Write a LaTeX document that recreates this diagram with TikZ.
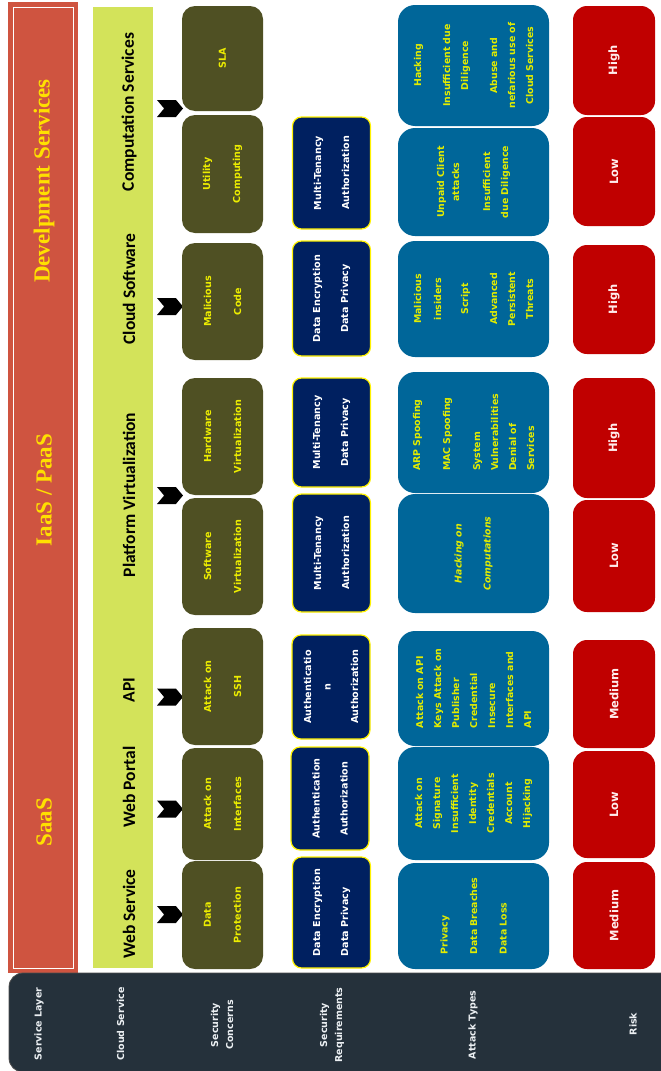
\documentclass[tikz,border=0pt]{standalone}
\usepackage{fontspec}
\setmainfont{DejaVu Sans}
\newfontfamily\carlito{Carlito}
\newfontfamily\serifhead{Liberation Serif}
\usetikzlibrary{shapes.symbols}
\definecolor{layerred}{RGB}{207,84,64}
\definecolor{servgreen}{RGB}{211,227,90}
\definecolor{olivebox}{RGB}{79,80,35}
\definecolor{navybox}{RGB}{0,32,96}
\definecolor{attackblue}{RGB}{0,102,153}
\definecolor{riskred}{RGB}{192,0,0}
\definecolor{headdark}{RGB}{37,49,59}
\definecolor{boxyellow}{RGB}{236,236,0}
\definecolor{attackyellow}{RGB}{226,236,0}
\definecolor{headyellow}{RGB}{255,224,0}
\definecolor{riskwhite}{RGB}{255,236,236}
\definecolor{headwhite}{RGB}{236,240,243}
\begin{document}
\begin{tikzpicture}
   [x=1pt, y=-1pt,
    every node/.style={inner sep=0pt, outer sep=0pt},
    layer label/.style={rotate=90, text=headyellow, font=\serifhead\bfseries\fontsize{23}{26}\selectfont},
    service label/.style={rotate=90, text=black, font=\carlito\bfseries\fontsize{17.5}{20}\selectfont},
    chevron/.style={signal, signal to=east, signal from=west, signal pointer angle=100, fill=black, minimum width=26pt, minimum height=17pt},
    concern box/.style={rotate=90, rounded corners=13pt, fill=olivebox, text=boxyellow, minimum height=81pt, align=center, font=\bfseries\fontsize{9.6}{30}\selectfont},
    req box/.style={rotate=90, rounded corners=9pt, fill=navybox, draw=yellow, line width=1.2pt, text=white, minimum height=78pt, align=center, font=\bfseries\fontsize{9.6}{28}\selectfont},
    attack box/.style={rotate=90, rounded corners=17pt, fill=attackblue, text=attackyellow, minimum height=151pt, align=center, font=\bfseries\fontsize{9.4}{18}\selectfont},
    risk box/.style={rotate=90, rounded corners=14pt, fill=riskred, text=riskwhite, minimum height=82pt, font=\bfseries\fontsize{11.5}{14}\selectfont},
    head label/.style={rotate=90, text=headwhite, align=center, font=\bfseries\fontsize{9.5}{15}\selectfont}]
   \useasboundingbox (0,0) rectangle (661,1071);

   % service layer
   \fill[layerred] (8,2) rectangle (78,973);
   \draw[white, line width=0.8pt] (13.5,7) rectangle (73.5,968);
   \node[layer label] (saas) at (44,822) {SaaS};
   \node[layer label] (iaas) at (44,490) {IaaS / PaaS};
   \node[layer label] (devsrv) at (44,181) {Develpment Services};

   % cloud services
   \fill[servgreen] (93,7) rectangle (153,968);
   \node[service label] (websrv) at (129,914) {Web Service};
   \node[service label] (webportal) at (129,787) {Web Portal};
   \node[service label] (api) at (129,690) {API};
   \node[service label] (platform) at (129,495) {Platform Virtualization};
   \node[service label] (cloudsw) at (129,289) {Cloud Software};
   \node[service label] (compsrv) at (129,112) {Computation Services};

   \node[chevron] (chwebsrv) at (170,914.5) {};
   \node[chevron] (chwebportal) at (170,809) {};
   \node[chevron] (chapi) at (170,697) {};
   \node[chevron] (chplatform) at (170,495.5) {};
   \node[chevron] (chcloudsw) at (170,306.5) {};
   \node[chevron] (chcompsrv) at (170,108.5) {};

   % security concerns
   \node[concern box, minimum width=108pt] (dataprot) at (222.5,915) {Data\\Protection};
   \node[concern box, minimum width=112pt] (attintf) at (222.5,804) {Attack on\\Interfaces};
   \node[concern box, minimum width=117pt] (attssh) at (222.5,686.5) {Attack on\\SSH};
   \node[concern box, minimum width=117pt] (softvirt) at (222.5,556.5) {Software\\Virtualization};
   \node[concern box, minimum width=117pt] (hardvirt) at (222.5,436.5) {Hardware\\Virtualization};
   \node[concern box, minimum width=117pt] (malcode) at (222.5,301.5) {Malicious\\Code};
   \node[concern box, minimum width=118pt] (utilcomp) at (222.5,174) {Utility\\Computing};
   \node[concern box, minimum width=105pt] (sla) at (222.5,58.5) {SLA};

   % security requirements
   \node[req box, minimum width=111pt, align=left] (reqwebsrv) at (331.5,912.5) {Data Encryption\\Data Privacy};
   \node[req box, minimum width=103pt] (reqwebportal) at (330,798.5) {Authentication\\Authorization};
   \node[req box, minimum width=104pt, font=\bfseries\fontsize{9.6}{19.5}\selectfont] (reqapi) at (331,687) {Authenticatio\\n\\[8pt]Authorization};
   \node[req box, minimum width=118pt] (reqsoftvirt) at (331.5,553) {Multi-Tenancy\\Authorization};
   \node[req box, minimum width=109pt] (reqhardvirt) at (331.5,432.5) {Multi-Tenancy\\Data Privacy};
   \node[req box, minimum width=115pt] (reqcloudsw) at (331.5,298.5) {Data Encryption\\Data Privacy};
   \node[req box, minimum width=112pt] (requtil) at (331.5,173) {Multi-Tenancy\\Authorization};

   % attack types
   \node[attack box, minimum width=106pt, align=left] (attwebsrv) at (473.5,916) {Privacy\\[11.5pt]Data Breaches\\[11.5pt]Data Loss};
   \node[attack box, minimum width=113pt] (attwebportal) at (473.5,803.5) {Attack on\\Signature\\Insufficient\\Identity\\Credentials\\Account\\Hijacking};
   \node[attack box, minimum width=115pt, align=left] (attapi) at (473.5,688.5) {Attack on API\\Keys Attack on\\Publisher\\Credential\\Insecure\\Interfaces and\\API};
   \node[attack box, minimum width=119pt, font=\bfseries\itshape\fontsize{9.4}{29}\selectfont] (attsoftvirt) at (473.5,553.5) {Hacking on\\Computations};
   \node[attack box, minimum width=121pt, align=left] (atthardvirt) at (473.5,432.5) {ARP Spoofing\\[12pt]MAC Spoofing\\[12pt]System\\Vulnerabilities\\Denial of\\Services};
   \node[attack box, minimum width=116pt] (attcloudsw) at (473.5,299) {Malicious\\[2pt]insiders\\[9pt]Script\\[11pt]Advanced\\Persistent\\Threats};
   \node[attack box, minimum width=108pt] (attutil) at (473.5,182) {Unpaid Client\\[-3pt]attacks\\[13pt]Insufficient\\due Diligence};
   \node[attack box, minimum width=121pt] (attsla) at (473.5,65.5) {Hacking\\[11pt]Insufficient due\\Diligence\\[11pt]Abuse and\\nefarious use of\\Cloud Services};

   % risk
   \node[risk box, minimum width=107pt] (riskwebsrv) at (614,915.5) {Medium};
   \node[risk box, minimum width=107pt] (riskwebportal) at (614,804.5) {Low};
   \node[risk box, minimum width=108pt] (riskapi) at (614,694) {Medium};
   \node[risk box, minimum width=112pt] (risksoftvirt) at (614,556) {Low};
   \node[risk box, minimum width=120pt] (riskhardvirt) at (614,438) {High};
   \node[risk box, minimum width=109pt] (riskcloudsw) at (614,299.5) {High};
   \node[risk box, minimum width=109pt] (riskutil) at (614,171.5) {Low};
   \node[risk box, minimum width=109pt] (risksla) at (614,60.5) {High};

   % heading row
   \draw[fill=headdark, draw=gray!60!black, line width=0.8pt, rounded corners=14pt] (9,973) rectangle (690,1072);
   \node[head label] (hlayer) at (39,1024) {Service Layer};
   \node[head label] (hservice) at (120.5,1024) {Cloud Service};
   \node[head label] (hconcern) at (222,1025) {Security\\Concerns};
   \node[head label] (hreq) at (332,1025) {Security\\Requirements};
   \node[head label] (hattack) at (473,1025) {Attack Types};
   \node[head label] (hrisk) at (633,1024) {Risk};
\end{tikzpicture}
\end{document}
